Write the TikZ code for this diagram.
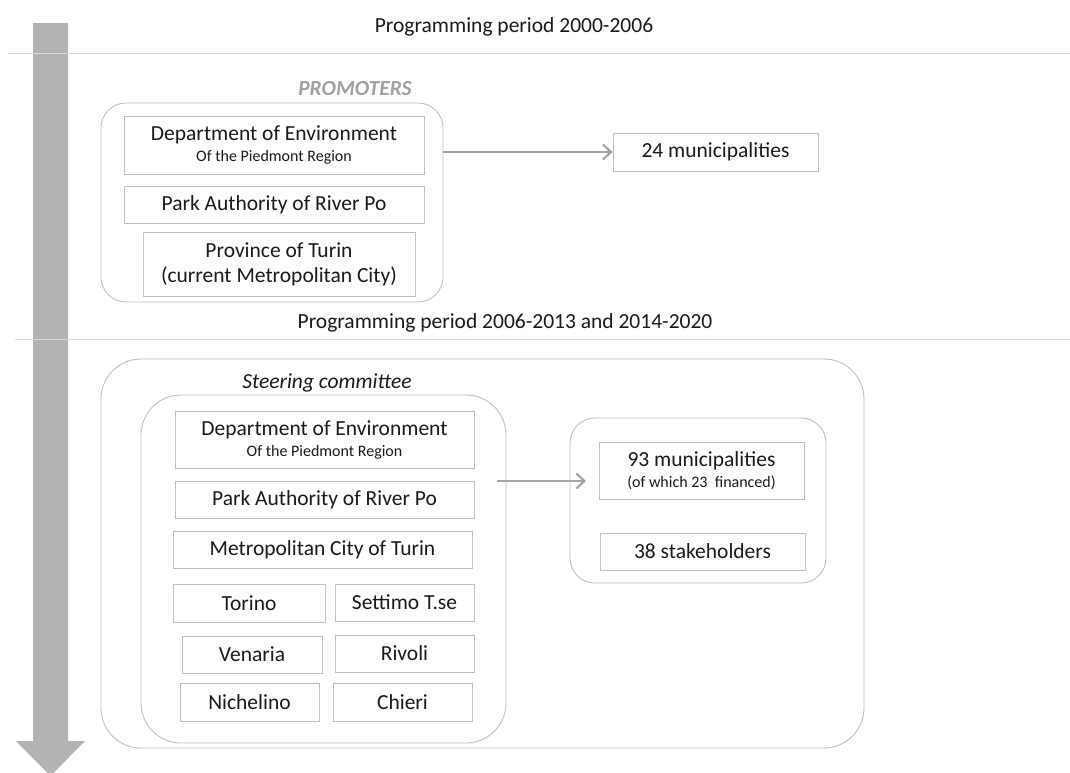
\documentclass[tikz,border=0pt]{standalone}
\usepackage{fontspec}
\setmainfont{Carlito}
\usetikzlibrary{arrows.meta}
\definecolor{boxgray}{HTML}{BFBFBF}
\definecolor{arrgray}{HTML}{A6A6A6}
\definecolor{shaftgray}{HTML}{B3B3B3}
\definecolor{sepgray}{HTML}{D9D9D9}
\definecolor{txt}{HTML}{1A1A1A}
\definecolor{promgray}{HTML}{A0A0A0}
\newcommand{\subline}{\fontsize{16}{19}\selectfont}
\tikzset{
  box/.style={draw=boxgray, line width=0.9pt, inner sep=0pt, text=txt,
    font=\fontsize{21.5}{25}\selectfont, align=center},
  group/.style={draw=boxgray, line width=0.9pt, inner sep=0pt},
  flow/.style={draw=arrgray, line width=2.2pt, -{Straight Barb[length=8pt,width=15pt,line width=2.2pt]}},
  titletext/.style={text=txt, inner sep=0pt, font=\fontsize{21.5}{25}\selectfont},
  sepline/.style={draw=sepgray, line width=0.6pt}
}
\begin{document}
\begin{tikzpicture}[x=1pt,y=-1pt]
\useasboundingbox (0,0) rectangle (1070,772);
\clip (0,0) rectangle (1070,772);
% timeline arrow
\fill[shaftgray] (33,23) -- (68,23) -- (68,741) -- (85,741) -- (50.5,776) -- (16,741) -- (33,741) -- cycle;
% separators
\coordinate (s1a) at (8,53); \coordinate (s1b) at (1070,53);
\coordinate (s2a) at (15,339); \coordinate (s2b) at (1070,339);
\draw[sepline] (s1a) -- (s1b);
\draw[sepline] (s2a) -- (s2b);
% titles
\node[titletext] (t1) at (514,27) {Programming period 2000-2006};
\node[titletext] (t2) at (505,323) {Programming period 2006-2013 and 2014-2020};
% period 1
\node[text=promgray, font=\fontsize{21.5}{25}\selectfont\bfseries\itshape, inner sep=0pt] (promlab) at (355,89) {PROMOTERS};
\node[group, rounded corners=25pt, minimum width=342pt, minimum height=199pt] (prom) at (272,202.5) {};
\node[box, minimum width=300pt, minimum height=58pt] (dep1) at (274,145) {Department of Environment\\[-4pt]{\subline Of the Piedmont Region}};
\node[box, minimum width=300pt, minimum height=37pt] (park1) at (274,204.5) {Park Authority of River Po};
\node[box, minimum width=272pt, minimum height=64pt] (prov1) at (279,264) {Province of Turin\\(current Metropolitan City)};
\node[box, minimum width=205pt, minimum height=38pt] (m24) at (715.5,152) {24 municipalities};
\draw[flow] (prom.east |- m24.west) -- (m24.west);
% period 2
\node[group, rounded corners=40pt, minimum width=763pt, minimum height=389pt] (outer) at (482.5,553.5) {};
\node[titletext, font=\fontsize{21.5}{25}\selectfont\itshape] (steer) at (327,383) {Steering committee};
\node[group, rounded corners=40pt, minimum width=365pt, minimum height=348pt] (inner) at (323.5,569) {};
\node[box, minimum width=299pt, minimum height=57pt] (dep2) at (324.5,439.5) {Department of Environment\\[-4pt]{\subline Of the Piedmont Region}};
\node[box, minimum width=299pt, minimum height=37pt] (park2) at (324.5,499.5) {Park Authority of River Po};
\node[box, minimum width=299pt, minimum height=37pt] (metro) at (322.5,549.5) {Metropolitan City of Turin};
\node[box, minimum width=152pt, minimum height=38pt] (torino) at (249,603) {Torino};
\node[box, minimum width=139pt, minimum height=37pt] (settimo) at (404.5,602.5) {Settimo T.se};
\node[box, minimum width=140pt, minimum height=37pt] (venaria) at (252,654.5) {Venaria};
\node[box, minimum width=139pt, minimum height=37pt] (rivoli) at (404.5,653.5) {Rivoli};
\node[box, minimum width=139pt, minimum height=38pt] (nichelino) at (249.5,702) {Nichelino};
\node[box, minimum width=139pt, minimum height=38pt] (chieri) at (402.5,702) {Chieri};
\node[group, rounded corners=25pt, minimum width=256pt, minimum height=165pt] (right) at (698,500.5) {};
\node[box, minimum width=205pt, minimum height=57pt] (m93) at (701.5,470.5) {93 municipalities\\[-4pt]{\subline (of which 23\ \ financed)}};
\node[box, minimum width=205pt, minimum height=37pt] (s38) at (702.5,551.5) {38 stakeholders};
\coordinate (a2s) at (497,481);
\coordinate (a2e) at (586,481);
\draw[flow] (a2s) -- (a2e);
\end{tikzpicture}
\end{document}
